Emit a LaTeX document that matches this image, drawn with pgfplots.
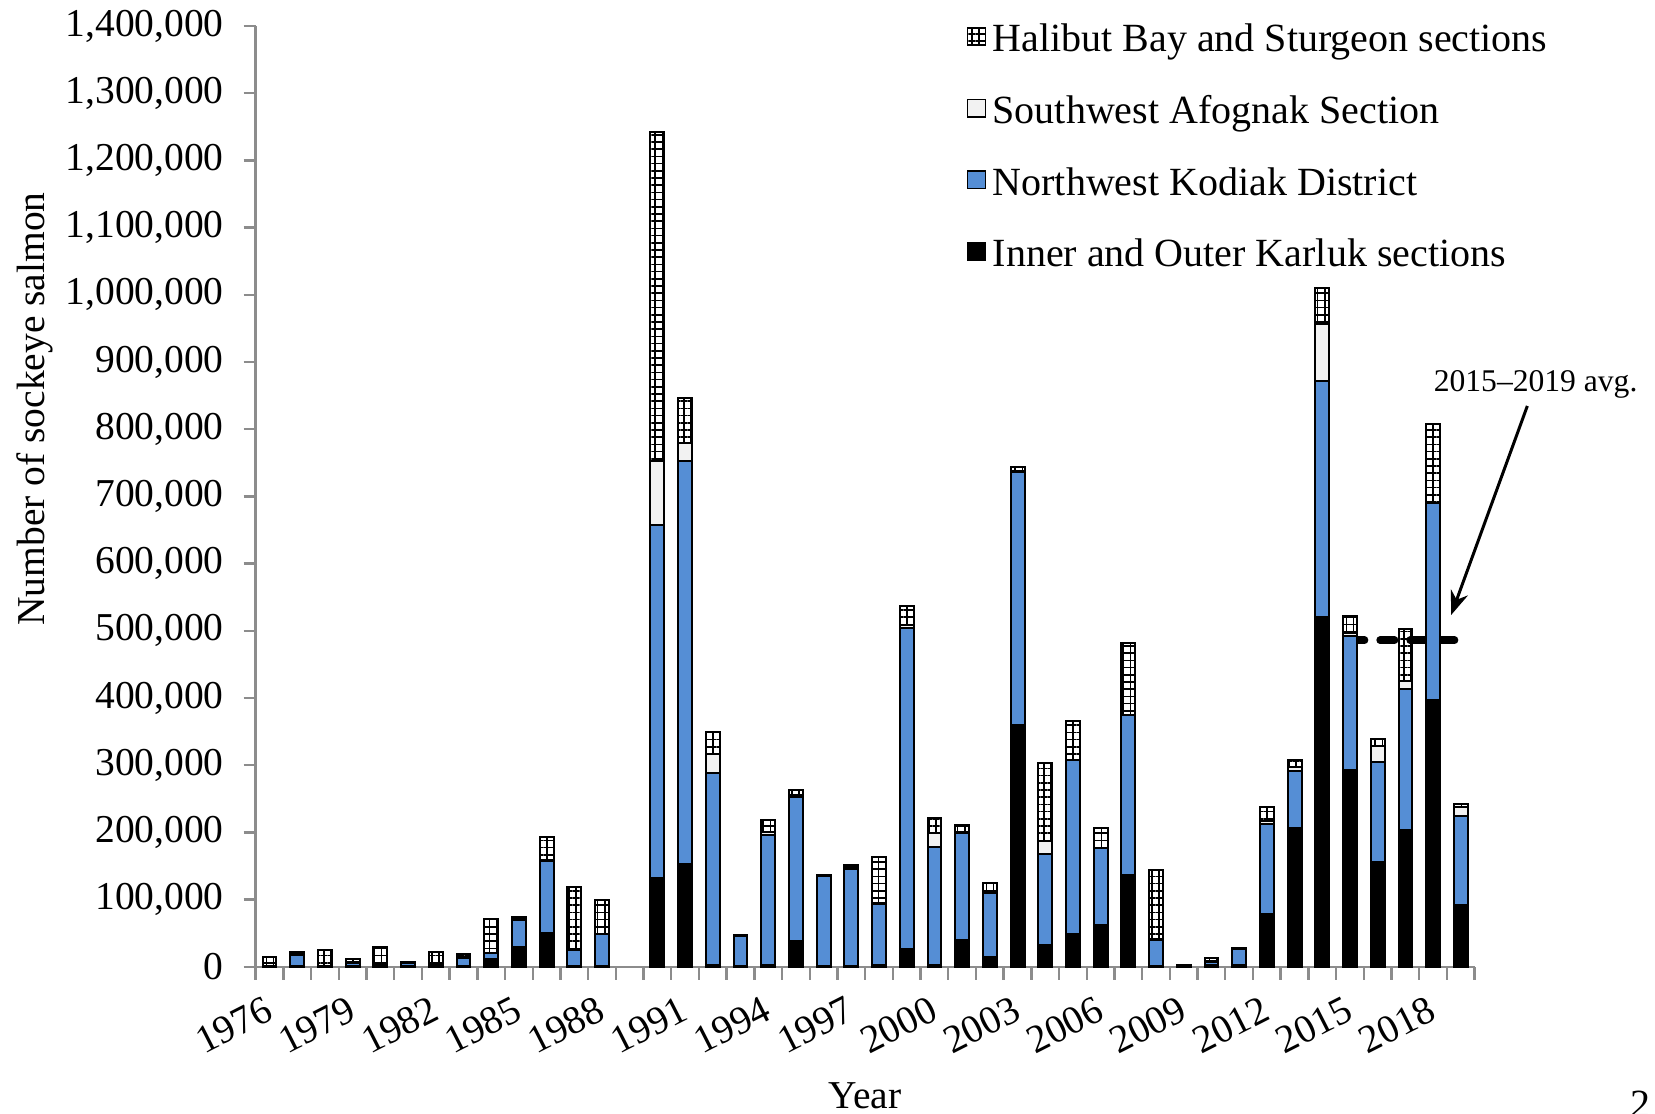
\documentclass[border=0pt]{standalone}
\usepackage{pgfplots}
\pgfplotsset{compat=1.18}
\usepackage{pgfplotstable}
\usepackage{fontspec}
\setmainfont{Liberation Serif}
\usetikzlibrary{patterns.meta,arrows.meta}

\definecolor{nwblue}{HTML}{558ED5}
\definecolor{swgrey}{HTML}{F2F2F2}
\definecolor{axisgray}{HTML}{8C8C8C}

% sockeye catch by area: Karluk, NW Kodiak, SW Afognak, Halibut Bay/Sturgeon
\pgfplotstableread{
year K NW SW H
1976 1000 0 0 14000
1977 1000 16000 2000 3000
1978 1000 0 0 24000
1979 1000 5000 1000 4000
1980 5000 1000 0 24000
1981 500 5500 0 1500
1982 4000 1000 0 17000
1983 1000 12000 1000 5000
1984 12000 8000 1000 50000
1985 30000 40000 1000 3000
1986 50000 108000 1000 34000
1987 1000 24000 1000 93000
1988 1000 47000 1000 51000
1989 0 0 0 0
1990 132000 526000 94000 491000
1991 153000 599000 27000 67000
1992 2000 286000 28000 33000
1993 1000 45000 0 1000
1994 3000 193000 4000 19000
1995 38000 215000 3000 7000
1996 1000 134000 0 1000
1997 1000 144000 3000 3000
1998 2000 92000 1000 68000
1999 26000 478000 4000 29000
2000 2000 176000 21000 22000
2001 40000 159000 2000 10000
2002 15000 94000 3000 13000
2003 360000 377000 1000 6000
2004 33000 135000 19000 116000
2005 48000 259000 1000 58000
2006 62000 114000 1000 29000
2007 137000 237000 1000 107000
2008 1000 39000 1000 103000
2009 2000 0 0 1000
2010 2000 5000 2000 4000
2011 2000 24000 0 2000
2012 78000 135000 4000 20000
2013 207000 84000 6000 10000
2014 520000 352000 85000 53000
2015 293000 199000 4000 26000
2016 156000 149000 23000 11000
2017 203000 211000 11000 78000
2018 397000 293000 0 118000
2019 92000 133000 13000 4000
}\catch

\begin{document}
\begin{tikzpicture}
\useasboundingbox (-127.85pt,-73.65pt) rectangle (699.65pt,483.35pt);
\begin{axis}[
  at={(0pt,0pt)}, anchor=south west,
  scale only axis, width=609.5pt, height=470.3pt,
  ybar stacked, bar width=0.5,
  xmin=1975.5, xmax=2019.5, ymin=0, ymax=1400000,
  clip=false,
  axis x line*=bottom, axis y line*=left,
  axis line style={draw=axisgray, line width=1.2pt, -},
  xtick={1976,1979,...,2018},
  minor xtick={1975.5,1976.5,...,2019.5},
  ytick distance=100000,
  tick align=outside,
  major tick length=6pt, minor tick length=6.5pt,
  major x tick style={draw=none},
  every tick/.style={draw=axisgray, line width=1.2pt},
  minor x tick style={draw=axisgray, line width=1.2pt},
  scaled y ticks=false,
  /pgf/number format/assume math mode=true,
  yticklabel style={/pgf/number format/fixed, /pgf/number format/1000 sep={,}, xshift=-6.5pt},
  xticklabel shift=5pt,
  xticklabel style={/pgf/number format/1000 sep={}, rotate=27, anchor=north east, xshift=-3.2pt, inner sep=1pt},
  ticklabel style={font=\fontsize{19.75}{23}\selectfont},
  ylabel={Number of sockeye salmon},
  ylabel style={at={(axis description cs:-0.181,0.593)}, anchor=center, font=\fontsize{19.75}{23}\selectfont},
  xlabel={Year},
  xlabel style={at={(axis description cs:0.5,-0.151)}, anchor=base, font=\fontsize{19.75}{23}\selectfont},
  reverse legend,
  legend cell align=left,
  legend style={at={(axis description cs:0.5828,1.0048)}, anchor=north west, draw=none, fill=none,
    inner sep=0pt, row sep=18.4pt, font=\fontsize{20}{23}\selectfont,
    nodes={inner sep=1pt}},
  legend image code/.code={\path[draw=none] (0pt,0pt) (11.7pt,0pt);
    \draw[#1, line width=0.8pt] (0pt,-2.9pt) rectangle (9pt,5.8pt);},
]
\addplot[fill=black, draw=black, line width=1pt] table[x=year, y=K] {\catch};
\addlegendentry{Inner and Outer Karluk sections}
\addplot[fill=nwblue, draw=black, line width=1pt] table[x=year, y=NW] {\catch};
\addlegendentry{Northwest Kodiak District}
\addplot[fill=swgrey, draw=black, line width=1pt] table[x=year, y=SW] {\catch};
\addlegendentry{Southwest Afognak Section}
\addplot[pattern={Hatch[angle=0, distance=3.6pt, line width=0.8pt]}, pattern color=black, draw=black, line width=1pt] table[x=year, y=H] {\catch};
\addlegendentry{Halibut Bay and Sturgeon sections}
% 2015-2019 average
\addplot[stack plots=false, sharp plot, draw=black, line width=3.7pt, line cap=round,
  dash pattern=on 7.3pt off 7.7pt, forget plot] coordinates {(2015,486000) (2019,486000)};
\draw[-{Stealth[length=12pt,width=9pt]}, line width=1.5pt] (axis cs:2021.4,834600) -- (axis cs:2018.65,523500);
\node[font=\fontsize{15.8}{19}\selectfont] at (axis cs:2021.7,866000) {2015--2019 avg.};
\node[font=\fontsize{20}{24}\selectfont, anchor=base west] at (axis description cs:1.122,-0.16) {2};
\end{axis}
\end{tikzpicture}
\end{document}
